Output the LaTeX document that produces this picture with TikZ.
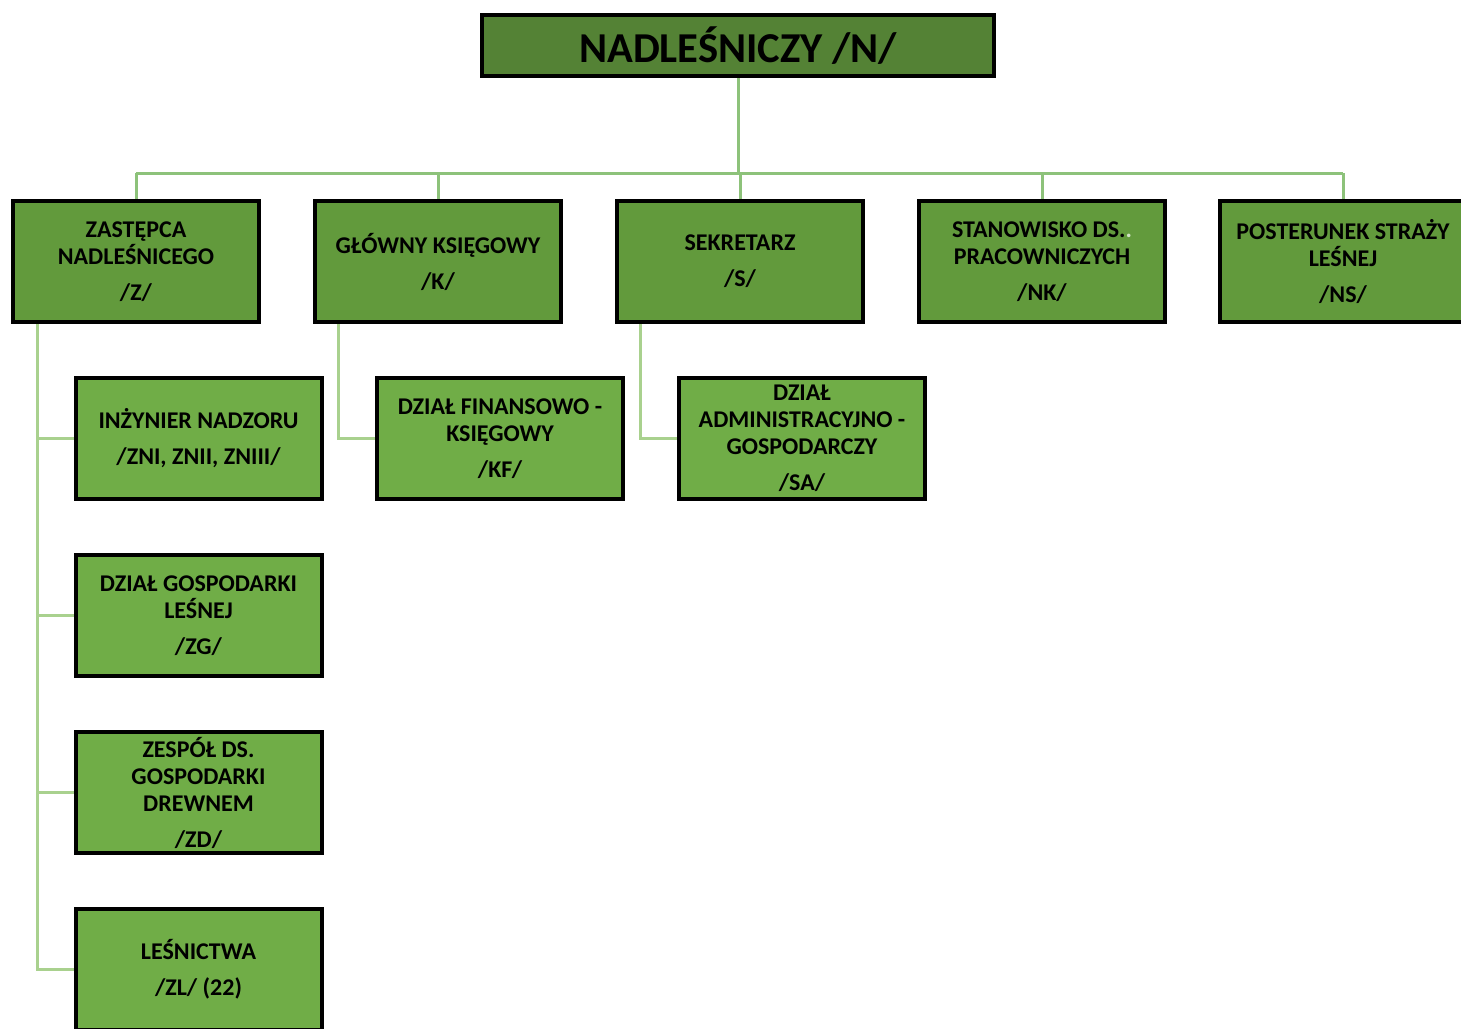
\documentclass[tikz,border=0pt]{standalone}
\usepackage{fontspec}
\setmainfont{Carlito}
\usetikzlibrary{backgrounds}
\definecolor{c1}{HTML}{548235}
\definecolor{c2}{HTML}{629A3C}
\definecolor{c3}{HTML}{70AD47}
\definecolor{busc}{HTML}{8DC27A}
\definecolor{subc}{HTML}{A9D18E}
\begin{document}
\begin{tikzpicture}[x=0.5pt,y=-0.5pt,
  box/.style={draw=black, line width=2pt, minimum width=123pt, minimum height=60.5pt,
    inner sep=0pt, align=center, text=black, font=\bfseries\fontsize{12}{13.5}\selectfont},
  lvltwo/.style={box, fill=c2},
  lvlthree/.style={box, fill=c3},
  topbox/.style={draw=black, line width=2pt, fill=c1, minimum width=256pt, minimum height=30.5pt,
    inner sep=0pt, text=black, font=\bfseries\fontsize{21.3}{24}\selectfont},
  bus/.style={draw=busc, line width=1.5pt},
  sub/.style={draw=subc, line width=1.5pt}]
\useasboundingbox (0,0) rectangle (1461,1028);
\clip (0,0) rectangle (1461,1028);

\coordinate (busL) at (136,173);
\coordinate (busR) at (1343,173);
\coordinate (zspine) at (37,324);
\coordinate (kspine) at (338,324);
\coordinate (sspine) at (640,324);

\node[topbox] (N) at (738,45.5) {NADLEŚNICZY /N/};

\node[lvltwo] (Z) at (136,261.5) {ZASTĘPCA\\NADLEŚNICEGO\\[4.5pt]/Z/};
\node[lvltwo] (K) at (438,261.5) {GŁÓWNY KSIĘGOWY\\[4.5pt]/K/};
\node[lvltwo] (S) at (740,261.5) {SEKRETARZ\\[4.5pt]/S/};
\node[lvltwo] (NK) at (1042,261.5) {STANOWISKO DS.\textcolor{white!70!c2}{.}\\PRACOWNICZYCH\\[4.5pt]/NK/};
\node[lvltwo] (NS) at (1343,261.5) {POSTERUNEK STRAŻY\\LEŚNEJ\\[4.5pt]/NS/};

\node[lvlthree] (IN) at (198.5,438.5) {INŻYNIER NADZORU\\[4.5pt]/ZNI, ZNII, ZNIII/};
\node[lvlthree] (ZG) at (198.5,615.5) {DZIAŁ GOSPODARKI\\LEŚNEJ\\[4.5pt]/ZG/};
\node[lvlthree] (ZD) at (198.5,792.5) {ZESPÓŁ DS.\\GOSPODARKI\\DREWNEM\\[4.5pt]/ZD/};
\node[lvlthree] (ZL) at (198.5,969.5) {LEŚNICTWA\\[4.5pt]/ZL/ (22)};
\node[lvlthree] (KF) at (500,438.5) {DZIAŁ FINANSOWO -\\KSIĘGOWY\\[4.5pt]/KF/};
\node[lvlthree] (SA) at (802,438.5) {DZIAŁ\\ADMINISTRACYJNO -\\GOSPODARCZY\\[4.5pt]/SA/};

\begin{scope}[on background layer]
\fill[white] (0,0) rectangle (1461,1028);
\draw[bus] (N.south) -- (N.south |- busL);
\draw[bus] (busL) -- (busR);
\foreach \n in {Z,K,S,NK,NS} \draw[bus] (\n.north |- busL) -- (\n.north);
\draw[sub] (zspine) |- (ZL.west);
\foreach \n in {IN,ZG,ZD} \draw[sub] (zspine |- \n.west) -- (\n.west);
\draw[sub] (kspine) |- (KF.west);
\draw[sub] (sspine) |- (SA.west);
\end{scope}
\end{tikzpicture}
\end{document}
